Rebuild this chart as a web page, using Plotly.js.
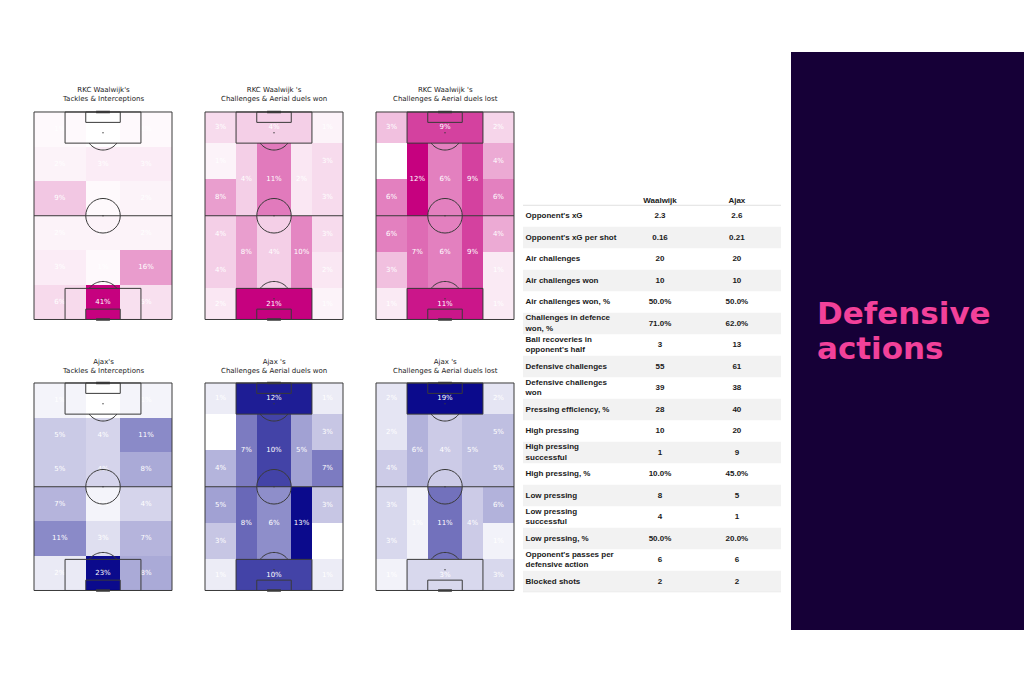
<!DOCTYPE html>
<html><head><meta charset="utf-8">
<script src="https://cdn.plot.ly/plotly-3.0.1.min.js"></script>
<style>html,body{margin:0;padding:0;background:#fff;}#chart{width:1024px;height:683px;}</style>
</head><body><div id="chart"></div>
<script>
// ================= DATA =================
const pitchTitles = [
  "RKC Waalwijk's<br>Tackles & Interceptions",
  "RKC Waalwijk 's<br>Challenges & Aerial duels won",
  "RKC Waalwijk 's<br>Challenges & Aerial duels lost",
  "Ajax's<br>Tackles & Interceptions",
  "Ajax 's<br>Challenges & Aerial duels won",
  "Ajax 's<br>Challenges & Aerial duels lost"
];
// Tackles & interceptions, % per zone: 3 lanes x 6 rows, read top->bottom, left->right
const waalwijkTackles = [1,0,1, 2,3,3, 9,1,2, 2,2,2, 3,1,16, 6,41,5];
const ajaxTackles     = [1,0,1, 5,4,11, 5,4,8, 7,1,4, 11,3,7, 2,23,8];
// Positional zones (order): top box row (LW, box, RW), top half (LW1, LW2, LHS, centre, RHS, RW1, RW2),
// bottom half (LW3, LW4, LHS, centre, RHS, RW3, RW4), bottom box row (LW, box, RW)
const waalwijkDuelsWon  = [3,4,1, 1,8,4,11,2,3,3, 4,4,8,4,10,3,2, 2,21,1];
const waalwijkDuelsLost = [3,9,2, 0,6,12,6,9,4,6, 6,3,7,6,9,4,1, 1,11,1];
const ajaxDuelsWon      = [1,12,1, 0,4,7,10,5,3,7, 5,3,8,6,13,3,0, 1,10,1];
const ajaxDuelsLost     = [2,19,2, 2,4,6,4,5,5,5, 3,3,1,11,4,6,1, 1,3,3];

const tableHeader = ["Waalwijk", "Ajax"];
const statLabels = [
  "Opponent's xG","Opponent's xG per shot","Air challenges","Air challenges won",
  "Air challenges won, %","Challenges in defence<br>won, %","Ball recoveries in<br>opponent's half",
  "Defensive challenges","Defensive challenges<br>won","Pressing efficiency, %","High pressing",
  "High pressing<br>successful","High pressing, %","Low pressing","Low pressing<br>successful",
  "Low pressing, %","Opponent's passes per<br>defensive action","Blocked shots"
];
const waalwijkStats = ["2.3","0.16","20","10","50.0%","71.0%","3","55","39","28","10","1","10.0%","8","4","50.0%","6","2"];
const ajaxStats     = ["2.6","0.21","20","10","50.0%","62.0%","13","61","38","40","20","9","45.0%","5","1","20.0%","6","2"];
const panelTitle = ["Defensive", "actions"];

// ================= GEOMETRY / STYLE =================
const W = 1024, H = 683;
const PINK = '#c6017f', NAVY = '#0b0a8c';
const LINE = '#3a3a3a';
const PW = 138, PH = 207.5, PAD = 1.5;
const TACKLE_EX = [0,30,50,80], TACKLE_EY = [0,20,40,60,80,100,120];
const TACKLE_ZONES = [];
for (let r = 0; r < 6; r++) for (let c = 0; c < 3; c++)
  TACKLE_ZONES.push([TACKLE_EX[c], TACKLE_EX[c+1], TACKLE_EY[r], TACKLE_EY[r+1]]);
const POS_EX = [0,18,30,50,62,80], POS_EY = [0,18,39,60,81,102,120];
const POS_ZONES = [
  [0,18,0,18],[18,62,0,18],[62,80,0,18],
  [0,18,18,39],[0,18,39,60],[18,30,18,60],[30,50,18,60],[50,62,18,60],[62,80,18,39],[62,80,39,60],
  [0,18,60,81],[0,18,81,102],[18,30,60,102],[30,50,60,102],[50,62,60,102],[62,80,60,81],[62,80,81,102],
  [0,18,102,120],[18,62,102,120],[62,80,102,120]
];

const pitches = [
  {title: pitchTitles[0], vals: waalwijkTackles,   zones: TACKLE_ZONES, ex: TACKLE_EX, ey: TACKLE_EY, col: PINK, left: 34,  top: 112},
  {title: pitchTitles[1], vals: waalwijkDuelsWon,  zones: POS_ZONES,    ex: POS_EX,    ey: POS_EY,    col: PINK, left: 205, top: 112},
  {title: pitchTitles[2], vals: waalwijkDuelsLost, zones: POS_ZONES,    ex: POS_EX,    ey: POS_EY,    col: PINK, left: 376, top: 112},
  {title: pitchTitles[3], vals: ajaxTackles,       zones: TACKLE_ZONES, ex: TACKLE_EX, ey: TACKLE_EY, col: NAVY, left: 34,  top: 383},
  {title: pitchTitles[4], vals: ajaxDuelsWon,      zones: POS_ZONES,    ex: POS_EX,    ey: POS_EY,    col: NAVY, left: 205, top: 383},
  {title: pitchTitles[5], vals: ajaxDuelsLost,     zones: POS_ZONES,    ex: POS_EX,    ey: POS_EY,    col: NAVY, left: 376, top: 383}
];

function buildZ(p) {
  const z = [];
  for (let r = 0; r < p.ey.length - 1; r++) {
    const row = [];
    const cy = (p.ey[r] + p.ey[r+1]) / 2;
    for (let c = 0; c < p.ex.length - 1; c++) {
      const cx = (p.ex[c] + p.ex[c+1]) / 2;
      const idx = p.zones.findIndex(zn => cx > zn[0] && cx < zn[1] && cy > zn[2] && cy < zn[3]);
      row.push(p.vals[idx]);
    }
    z.push(row);
  }
  return z;
}

function pitchShapes(xr, yr) {
  const s = [];
  const ln = {color: LINE, width: 1};
  const add = o => s.push(Object.assign({xref: xr, yref: yr, layer: 'above'}, o));
  add({type:'rect', x0:0, x1:80, y0:0, y1:120, line: ln});
  add({type:'line', x0:0, x1:80, y0:60, y1:60, line: ln});
  add({type:'circle', x0:30, x1:50, y0:50, y1:70, line: ln});
  add({type:'circle', x0:39.6, x1:40.4, y0:59.6, y1:60.4, line:{width:0}, fillcolor: LINE});
  [[0,1],[120,-1]].forEach(([g, d]) => {
    add({type:'rect', x0:18, x1:62, y0:g, y1:g + d*18, line: ln});
    add({type:'rect', x0:30, x1:50, y0:g, y1:g + d*6, line: ln});
    add({type:'circle', x0:39.6, x1:40.4, y0:g + d*12 - 0.4, y1:g + d*12 + 0.4, line:{width:0}, fillcolor: LINE});
    add({type:'line', x0:36, x1:44, y0:g, y1:g, line:{color: LINE, width: 2.5}});
    const a = Math.acos(0.6);
    let path = '';
    for (let k = 0; k <= 24; k++) {
      const t = -a + 2*a*k/24;
      const px = 40 + 10*Math.sin(t), py = g + d*(12 + 10*Math.cos(t));
      path += (k === 0 ? 'M' : ' L') + px.toFixed(3) + ',' + py.toFixed(3);
    }
    add({type:'path', path: path, line: ln});
  });
  return s;
}

const traces = [];
const layout = {
  width: W, height: H, margin: {l:0, r:0, t:0, b:0},
  paper_bgcolor: '#ffffff', plot_bgcolor: 'rgba(0,0,0,0)',
  showlegend: false, shapes: [], annotations: []
};

// dark panel
layout.shapes.push({type:'rect', xref:'paper', yref:'paper', x0: 791/W, x1: 1, y0: 1 - 630/H, y1: 1 - 52/H,
  fillcolor: '#160037', line: {width: 0}, layer: 'below'});
layout.annotations.push({xref:'paper', yref:'paper', x: 815/W, y: 1 - 313/H, xanchor:'left', yanchor:'middle',
  text: panelTitle[0], showarrow:false, font:{family:'DejaVu Sans', size:31, weight:'bold', color:'#f2419a'}});
layout.annotations.push({xref:'paper', yref:'paper', x: 815/W, y: 1 - 348/H, xanchor:'left', yanchor:'middle',
  text: panelTitle[1], showarrow:false, font:{family:'DejaVu Sans', size:31, weight:'bold', color:'#f2419a'}});

pitches.forEach((p, i) => {
  const n = i + 1, sfx = n === 1 ? '' : String(n);
  const xr = 'x' + sfx, yr = 'y' + sfx;
  const ux = PW / 80, uy = PH / 120;
  const x0 = p.left - ux*PAD, x1 = p.left + PW + ux*PAD;
  const y0 = p.top - uy*PAD, y1 = p.top + PH + uy*PAD;
  layout['xaxis' + sfx] = {domain: [x0/W, x1/W], range: [-PAD, 80 + PAD], visible: false, fixedrange: true, anchor: yr};
  layout['yaxis' + sfx] = {domain: [1 - y1/H, 1 - y0/H], range: [120 + PAD, -PAD], visible: false, fixedrange: true, anchor: xr};
  traces.push({type:'heatmap', x: p.ex, y: p.ey, z: buildZ(p), xaxis: xr, yaxis: yr,
    colorscale: [[0, '#ffffff'], [1, p.col]], zmin: 0, zmax: Math.max(...p.vals),
    showscale: false, hoverinfo: 'skip'});
  traces.push({type:'scatter', mode:'text', xaxis: xr, yaxis: yr,
    x: p.zones.map(zn => (zn[0] + zn[1]) / 2), y: p.zones.map(zn => (zn[2] + zn[3]) / 2),
    text: p.vals.map(v => v + '%'), textposition: 'middle center',
    textfont: {family: 'DejaVu Sans', size: 7, color: '#ffffff'}, hoverinfo: 'skip'});
  layout.shapes.push(...pitchShapes(xr, yr));
  layout.annotations.push({xref:'paper', yref:'paper', x: (p.left + PW/2)/W, y: 1 - (p.top - 17)/H,
    xanchor:'center', yanchor:'middle', text: p.title, showarrow:false,
    font:{family:'DejaVu Sans', size:7, color:'#222222'}});
});

// ---- table ----
const ROW = 21.5, ROW0 = 216;
const tTop = ROW0 - 1.5*ROW, tBot = ROW0 + 17.5*ROW;
layout.xaxis7 = {domain: [523/W, 781/W], range: [0, 1], visible: false, fixedrange: true, anchor: 'y7'};
layout.yaxis7 = {domain: [1 - tBot/H, 1 - tTop/H], range: [statLabels.length - 0.5, -1.5], visible: false, fixedrange: true, anchor: 'x7'};
const rowIdx = statLabels.map((_, i) => i);
const stripeRows = rowIdx.filter(i => i % 2 === 1);
traces.push({type:'bar', orientation:'h', xaxis:'x7', yaxis:'y7', y: stripeRows, x: stripeRows.map(() => 1),
  base: 0, width: 1, marker: {color: '#f2f2f2', line: {width: 0}}, hoverinfo: 'skip'});
const tfont = {family: 'Liberation Sans, Arial', size: 8, color: '#1a1a1a', weight: 'bold'};
traces.push({type:'scatter', mode:'text', xaxis:'x7', yaxis:'y7', x: rowIdx.map(() => 0.01), y: rowIdx,
  text: statLabels, textposition: 'middle right', textfont: tfont, hoverinfo: 'skip', cliponaxis: false});
traces.push({type:'scatter', mode:'text', xaxis:'x7', yaxis:'y7', x: rowIdx.map(() => 0.531), y: rowIdx,
  text: waalwijkStats, textposition: 'middle center', textfont: tfont, hoverinfo: 'skip', cliponaxis: false});
traces.push({type:'scatter', mode:'text', xaxis:'x7', yaxis:'y7', x: rowIdx.map(() => 0.829), y: rowIdx,
  text: ajaxStats, textposition: 'middle center', textfont: tfont, hoverinfo: 'skip', cliponaxis: false});
traces.push({type:'scatter', mode:'text', xaxis:'x7', yaxis:'y7', x: [0.531, 0.829], y: [-0.72, -0.72],
  text: tableHeader, textposition: 'middle center', textfont: tfont, hoverinfo: 'skip', cliponaxis: false});
[-0.5, statLabels.length - 0.5].forEach(yv => layout.shapes.push({type:'line', xref:'x7', yref:'y7',
  x0: 0, x1: 1, y0: yv, y1: yv, line: {color: '#e0e0e0', width: 1}}));

Plotly.newPlot('chart', traces, layout, {staticPlot: true, displayModeBar: false});
</script>
</body></html>
